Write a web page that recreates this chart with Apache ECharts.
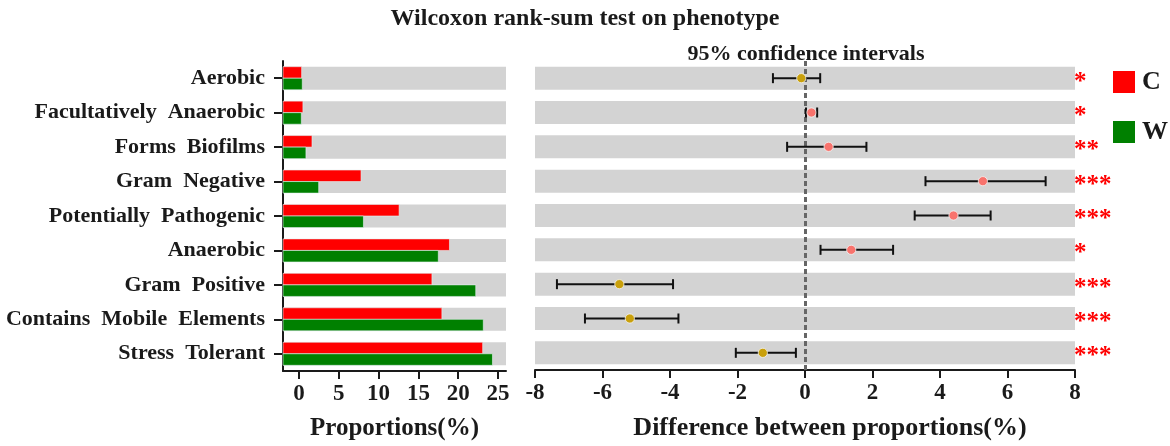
<!DOCTYPE html>
<html>
<head>
<meta charset="utf-8">
<script src="https://cdn.jsdelivr.net/npm/echarts@6/dist/echarts.min.js"></script>
<style>
  html, body { margin: 0; padding: 0; background: #fff; }
  #chart { width: 1170px; height: 446px; }
</style>
</head>
<body>
<div id="chart"></div>
<script>
// phenotype categories, top to bottom
var categories = ['Aerobic', 'Facultatively Anaerobic', 'Forms Biofilms', 'Gram Negative',
  'Potentially Pathogenic', 'Anaerobic', 'Gram Positive', 'Contains Mobile Elements', 'Stress Tolerant']

// mean proportions (%) per group
var groupC = [0.34, 0.5, 1.64, 7.8, 12.58, 18.9, 16.7, 17.95, 23.07]
var groupW = [0.42, 0.3, 0.88, 2.48, 8.1, 17.5, 22.2, 23.15, 24.3]

// difference between proportions and its 95% CI
var diffMean = [-0.11, 0.19, 0.70, 5.27, 4.40, 1.37, -5.50, -5.19, -1.25]
var ciLow = [-0.95, 0.03, -0.53, 3.57, 3.25, 0.46, -7.35, -6.52, -2.05]
var ciHigh = [0.45, 0.36, 1.82, 7.13, 5.50, 2.61, -3.91, -3.75, -0.27]

// significance marks
var signif = ['*', '*', '**', '***', '***', '*', '***', '***', '***']

// tick labels of the proportions axis
var propTicks = [0, 5, 10, 15, 20, 25]

var RED = '#ff0000'
var GREEN = '#008000'
var BAND = '#d3d3d3'
var POS = '#f8736d'
var NEG = '#c9a00c'
var INK = '#1a1a1a'
var SERIF = '"Liberation Serif", "Times New Roman", serif'

var chart = echarts.init(document.getElementById('chart'))

function bandRect(params, api, part) {
  var cs = params.coordSys
  var cat = api.value(0)
  var mid = api.coord([0, cat])[1]
  var band = api.size([0, 1])[1] * 0.67
  if (part === 'bg') {
    return {
      type: 'rect',
      shape: { x: cs.x, y: mid - band / 2, width: cs.width, height: band },
      style: { fill: BAND }
    }
  }
  var end = api.coord([api.value(1), cat])[0]
  var top = part === 'C' ? mid - band / 2 : mid
  return {
    type: 'rect',
    shape: { x: cs.x, y: top, width: end - cs.x, height: band / 2 },
    style: { fill: part === 'C' ? RED : GREEN, stroke: '#e6f2f2', lineWidth: 0.6 }
  }
}

function renderErr(params, api) {
  var cat = api.value(0)
  var p = api.coord([api.value(1), cat])
  var lo = api.coord([api.value(2), cat])
  var hi = api.coord([api.value(3), cat])
  var cap = 5
  var line = { stroke: '#111', lineWidth: 2 }
  return {
    type: 'group',
    children: [
      { type: 'line', shape: { x1: lo[0], y1: p[1], x2: hi[0], y2: p[1] }, style: line },
      { type: 'line', shape: { x1: lo[0], y1: p[1] - cap, x2: lo[0], y2: p[1] + cap }, style: line },
      { type: 'line', shape: { x1: hi[0], y1: p[1] - cap, x2: hi[0], y2: p[1] + cap }, style: line },
      {
        type: 'circle', shape: { cx: p[0], cy: p[1], r: 4.6 },
        style: { fill: api.value(1) >= 0 ? POS : NEG, stroke: '#f4f4f4', lineWidth: 0.8 }
      }
    ]
  }
}

function renderStars(params, api) {
  var cat = api.value(0)
  var cs = params.coordSys
  var mid = api.coord([0, cat])[1]
  return {
    type: 'text',
    x: cs.x + cs.width - 1,
    y: mid + 4,
    style: {
      text: signif[params.dataIndex],
      fill: RED,
      font: 'bold 25px ' + SERIF,
      align: 'left',
      verticalAlign: 'middle'
    }
  }
}

var catIdx = categories.map(function (c, i) { return i })

var option = {
  animation: false,
  backgroundColor: '#fff',
  title: [
    {
      text: 'Wilcoxon rank-sum test on phenotype',
      left: 'center',
      top: 2,
      textStyle: { fontFamily: SERIF, fontWeight: 'bold', fontSize: 24, color: INK }
    },
    {
      text: '95% confidence intervals',
      left: 801,
      top: 38,
      textAlign: 'center',
      textStyle: { fontFamily: SERIF, fontWeight: 'bold', fontSize: 22, color: INK }
    }
  ],
  legend: {
    orient: 'vertical',
    left: 1113,
    top: 69,
    itemWidth: 22,
    itemHeight: 22,
    itemGap: 24,
    icon: 'rect',
    padding: 0,
    selectedMode: false,
    data: ['C', 'W'],
    textStyle: { fontFamily: SERIF, fontWeight: 'bold', fontSize: 26, color: INK, padding: [0, 0, 0, 2] }
  },
  grid: [
    { left: 283, right: 664, top: 61, bottom: 75 },
    { left: 535, right: 95, top: 61, bottom: 75 }
  ],
  xAxis: [
    {
      type: 'value', gridIndex: 0, min: -2, max: 26,
      splitLine: { show: false },
      axisLine: { show: true, onZero: false, lineStyle: { color: INK, width: 2 } },
      axisTick: { show: true, length: 8, customValues: propTicks, lineStyle: { color: INK, width: 2 } },
      axisLabel: {
        customValues: propTicks, margin: 12,
        fontFamily: SERIF, fontWeight: 'bold', fontSize: 23, color: INK
      },
      name: 'Proportions(%)',
      nameLocation: 'middle',
      nameGap: 45,
      nameTextStyle: { fontFamily: SERIF, fontWeight: 'bold', fontSize: 25, color: INK }
    },
    {
      type: 'value', gridIndex: 1, min: -8, max: 8, interval: 2,
      splitLine: { show: false },
      axisLine: { show: true, onZero: false, lineStyle: { color: INK, width: 2 } },
      axisTick: { show: true, length: 8, lineStyle: { color: INK, width: 2 } },
      axisLabel: { margin: 12, fontFamily: SERIF, fontWeight: 'bold', fontSize: 23, color: INK },
      name: 'Difference between proportions(%)',
      nameLocation: 'middle',
      nameGap: 45,
      nameTextStyle: {
        fontFamily: SERIF, fontWeight: 'bold', fontSize: 26, color: INK, padding: [0, 0, 0, 50]
      }
    }
  ],
  yAxis: [
    {
      type: 'category', gridIndex: 0, data: categories, inverse: true,
      axisLine: { show: true, onZero: false, lineStyle: { color: INK, width: 2 } },
      axisTick: { show: true, alignWithLabel: true, length: 9, lineStyle: { color: INK, width: 2 } },
      axisLabel: {
        margin: 18, fontFamily: SERIF, fontWeight: 'bold', fontSize: 22, color: INK,
        formatter: function (v) { return v.split(' ').join('  ') }
      }
    },
    {
      type: 'category', gridIndex: 1, data: categories, inverse: true,
      axisLine: { show: false }, axisTick: { show: false }, axisLabel: { show: false }
    }
  ],
  series: [
    {
      type: 'custom', name: 'bgLeft', xAxisIndex: 0, yAxisIndex: 0, z: 1,
      encode: { x: 1, y: 0 },
      data: catIdx.map(function (i) { return [i, 0] }),
      renderItem: function (p, api) { return bandRect(p, api, 'bg') }
    },
    {
      type: 'custom', name: 'C', xAxisIndex: 0, yAxisIndex: 0, z: 2,
      itemStyle: { color: RED },
      encode: { x: 1, y: 0 },
      data: catIdx.map(function (i) { return [i, groupC[i]] }),
      renderItem: function (p, api) { return bandRect(p, api, 'C') }
    },
    {
      type: 'custom', name: 'W', xAxisIndex: 0, yAxisIndex: 0, z: 2,
      itemStyle: { color: GREEN },
      encode: { x: 1, y: 0 },
      data: catIdx.map(function (i) { return [i, groupW[i]] }),
      renderItem: function (p, api) { return bandRect(p, api, 'W') }
    },
    {
      type: 'custom', name: 'bgRight', xAxisIndex: 1, yAxisIndex: 1, z: 1,
      encode: { x: 1, y: 0 },
      data: catIdx.map(function (i) { return [i, 0] }),
      renderItem: function (p, api) { return bandRect(p, api, 'bg') },
      markLine: {
        silent: true, symbol: 'none', z: 3,
        label: { show: false },
        lineStyle: { color: '#666', width: 3, type: [5, 3] },
        data: [{ xAxis: 0 }]
      }
    },
    {
      type: 'custom', name: 'diff', xAxisIndex: 1, yAxisIndex: 1, z: 4,
      encode: { x: [1, 2, 3], y: 0 },
      data: catIdx.map(function (i) { return [i, diffMean[i], ciLow[i], ciHigh[i]] }),
      renderItem: renderErr
    },
    {
      type: 'custom', name: 'sig', xAxisIndex: 1, yAxisIndex: 1, z: 4, clip: false,
      encode: { x: 1, y: 0 },
      data: catIdx.map(function (i) { return [i, 0] }),
      renderItem: renderStars
    }
  ]
}

chart.setOption(option)
</script>
</body>
</html>
